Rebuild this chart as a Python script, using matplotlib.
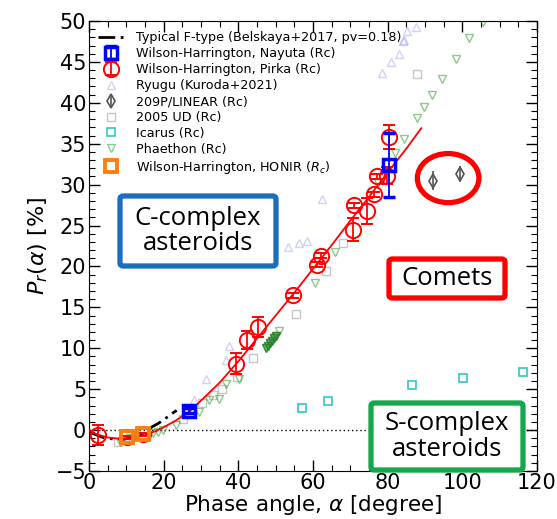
import matplotlib
matplotlib.use("Agg")
import matplotlib.pyplot as plt
from matplotlib.patches import Ellipse, FancyBboxPatch
from matplotlib.ticker import MultipleLocator
import numpy as np

# ---------------- data ----------------
ftype_x = [0.0, 2.0, 4.3, 7.0, 9.6, 12.0, 13.7, 15.5, 16.9, 18.5, 19.8, 21.3, 22.8, 23.5]
ftype_y = [-0.2, -0.6, -1.0, -1.1, -1.1, -0.9, -0.6, -0.1, 0.4, 0.8, 1.2, 1.7, 2.2, 2.4]

fit_x = [0, 2, 5, 8, 10, 12, 15, 18, 20, 23, 27, 30, 35, 40, 45, 50, 55, 60, 65, 70, 75, 80, 85, 89]
fit_y = [0.0, -0.5, -0.9, -1.05, -1.05, -0.95, -0.6, -0.1, 0.35, 1.1, 2.3, 3.6, 5.8, 8.4,
         11.2, 14.0, 16.8, 19.7, 22.6, 25.6, 28.5, 31.5, 34.4, 36.9]

nayuta_x = [26.9, 80.4]
nayuta_y = [2.35, 32.4]
nayuta_e = [0.3, 3.9]

pirka_x = [2.5, 10.3, 14.4, 39.4, 42.3, 45.3, 54.6, 61.1, 62.1, 70.7, 71.1, 74.5, 76.3, 77.1, 79.8, 80.4]
pirka_y = [-0.6, -0.9, -0.5, 8.1, 11.0, 12.6, 16.5, 20.2, 21.3, 24.5, 27.5, 26.8, 28.8, 31.0, 31.1, 35.8]
pirka_e = [1.2, 0.2, 0.2, 1.3, 1.1, 1.2, 0.3, 0.3, 0.3, 1.4, 0.3, 1.6, 0.3, 0.3, 1.0, 1.5]

ryugu_x = [28.1, 31.3, 36.7, 37.6, 53.3, 56.3, 58.3, 62.4, 78.6, 80.8, 83.0, 84.2, 84.4, 85.2, 87.6]
ryugu_y = [3.7, 6.3, 8.6, 10.3, 22.4, 22.9, 23.1, 28.2, 43.6, 45.0, 46.0, 47.5, 47.7, 48.8, 49.3]

lin_x = [92.2, 99.4]
lin_y = [30.5, 31.3]
lin_e = [1.2, 1.0]

ud_x = [7.8, 25.2, 30.3, 33.2, 35.7, 39.6, 43.9, 55.4, 63.4, 68.0, 87.8]
ud_y = [-1.4, 1.3, 3.3, 4.3, 5.0, 6.5, 8.8, 14.2, 19.5, 22.9, 43.5]

icarus_x = [57.0, 64.1, 86.6, 100.2, 116.2]
icarus_y = [2.7, 3.5, 5.5, 6.4, 7.1]

phaethon_x = [8.3, 11.0, 17.1, 18.5, 19.8, 23.3, 29.5, 32.2, 34.8, 36.7, 40.2, 47.3, 47.9, 48.5,
              49.0, 49.5, 50.0, 50.9, 60.5, 65.9, 77.4, 82.0, 84.4, 87.8, 89.8, 91.9, 94.6,
              98.3, 101.9, 105.6]
phaethon_y = [-1.4, -1.0, -0.4, -0.2, 0.0, 0.6, 2.2, 3.7, 3.8, 5.6, 6.2, 10.0, 10.3, 10.6,
              10.9, 11.2, 11.5, 12.1, 18.0, 21.8, 30.2, 33.9, 35.6, 38.1, 39.5, 41.0, 42.9,
              45.4, 47.9, 49.9]
phaethon_dense_x = [47.3, 47.9, 48.5, 49.0, 49.5, 50.0]
phaethon_dense_y = [10.0, 10.3, 10.6, 10.9, 11.2, 11.5]

honir_x = [10.3, 14.4]
honir_y = [-0.9, -0.5]

labels = ["Typical F-type (Belskaya+2017, pv=0.18)",
          "Wilson-Harrington, Nayuta (Rc)",
          "Wilson-Harrington, Pirka (Rc)",
          "Ryugu (Kuroda+2021)",
          "209P/LINEAR (Rc)",
          "2005 UD (Rc)",
          "Icarus (Rc)",
          "Phaethon (Rc)",
          "Wilson-Harrington, HONIR ($R_c$)"]

# ---------------- figure ----------------
W, H = 557, 519
fig = plt.figure(figsize=(W / 100, H / 100), dpi=100)
ax = fig.add_axes([89 / W, (H - 471) / H, 448 / W, 450 / H])

ax.axhline(0, color="black", ls=(0, (1, 2)), lw=1.0, zorder=1)

h_ryugu, = ax.plot(ryugu_x, ryugu_y, ls="none", marker="^", ms=6, mfc="none",
                   mec=(0.55, 0.55, 0.95, 0.4), mew=1.0, zorder=2)
h_ud, = ax.plot(ud_x, ud_y, ls="none", marker="s", ms=6, mfc="none",
                mec=(0.72, 0.72, 0.72, 0.8), mew=1.0, zorder=2)
h_icarus, = ax.plot(icarus_x, icarus_y, ls="none", marker="s", ms=6, mfc="none",
                    mec="#33c4c8", mew=1.2, zorder=2)
h_phae, = ax.plot(phaethon_x, phaethon_y, ls="none", marker="v", ms=6, mfc="none",
                  mec=(0.2, 0.6, 0.2, 0.55), mew=1.0, zorder=2)
ax.plot(phaethon_dense_x, phaethon_dense_y, ls="none", marker="v", ms=6,
        mfc=(0.2, 0.55, 0.2, 0.6), mec=(0.15, 0.5, 0.15, 0.8), mew=1.0, zorder=2)

h_ftype, = ax.plot(ftype_x, ftype_y, color="black", ls=(0, (6, 2, 1, 2)), lw=2.0, zorder=3)
ax.plot(fit_x, fit_y, color="red", lw=1.3, zorder=3)

h_lin = ax.errorbar(lin_x, lin_y, yerr=lin_e, fmt="d", ms=7, mfc="none", mec="#555555",
                    ecolor="#555555", elinewidth=1.2, mew=1.2, zorder=4)
h_pirka = ax.errorbar(pirka_x, pirka_y, yerr=pirka_e, fmt="o", ms=11, mfc="none", mec="red",
                      ecolor="red", elinewidth=1.3, capsize=4, mew=1.4, zorder=5)
h_honir, = ax.plot(honir_x, honir_y, ls="none", marker="s", ms=9, mfc="none",
                   mec="#ff7f0e", mew=2.8, zorder=6)
h_nayuta = ax.errorbar(nayuta_x, nayuta_y, yerr=nayuta_e, fmt="s", ms=8, mfc="none", mec="blue",
                       ecolor="blue", elinewidth=1.3, capsize=4, mew=2.5, zorder=7)

ax.add_patch(Ellipse((96.2, 30.8), 16.5, 6.0, fill=False, ec="red", lw=3.8, zorder=8))

ax.set_xlim(0, 120)
ax.set_ylim(-5, 50)
ax.xaxis.set_major_locator(MultipleLocator(20))
ax.xaxis.set_minor_locator(MultipleLocator(5))
ax.yaxis.set_major_locator(MultipleLocator(5))
ax.yaxis.set_minor_locator(MultipleLocator(1))
ax.tick_params(which="both", direction="in", top=True, right=True, labelsize=15)
ax.tick_params(which="major", length=8, width=1.0)
ax.tick_params(which="minor", length=4, width=0.8)
ax.tick_params(axis="x", pad=1.5)
ax.tick_params(axis="y", pad=2)
ax.set_xticks([0, 20, 40, 60, 80, 100, 120])
ax.set_xticklabels(["0", "20", "40", "60", "80", "100", "120"])
ax.set_yticks(list(range(-5, 51, 5)))
ax.set_yticklabels(["\u22125", "0", "5", "10", "15", "20", "25", "30", "35", "40", "45", "50"])
ax.set_xlabel(r"Phase angle, $\alpha$ [degree]", fontsize=15.5, labelpad=0)
ax.set_ylabel(r"$P_r(\alpha)$ [%]", fontsize=16, labelpad=4)

ax.legend([h_ftype, h_nayuta, h_pirka, h_ryugu, h_lin, h_ud, h_icarus, h_phae, h_honir],
          labels, loc="upper left", fontsize=9.2, frameon=False, handlelength=2.0,
          handletextpad=1.0, labelspacing=0.23, borderaxespad=0.3,
          bbox_to_anchor=(0.0, 0.997))

# ---------------- annotation boxes (figure pixels) ----------------
def box(x0, y0, x1, y1, color, text):
    fx0, fx1 = x0 / W, x1 / W
    fy0, fy1 = (H - y1) / H, (H - y0) / H
    p = FancyBboxPatch((fx0, fy0), fx1 - fx0, fy1 - fy0, boxstyle="round,pad=0,rounding_size=0.006",
                       transform=fig.transFigure, fc="white", ec=color, lw=3.8, zorder=20)
    fig.add_artist(p)
    fig.text((fx0 + fx1) / 2, (fy0 + fy1) / 2, text, ha="center", va="center",
             fontsize=18.5, family="Open Sans", linespacing=1.0, zorder=21)

box(120, 196, 276, 266, "#1a6ebd", "C-complex\nasteroids")
box(389, 259, 505, 298, "#ff0000", "Comets")
box(371, 403, 523, 470, "#14a84a", "S-complex\nasteroids")

fig.savefig("out.png", dpi=100)
